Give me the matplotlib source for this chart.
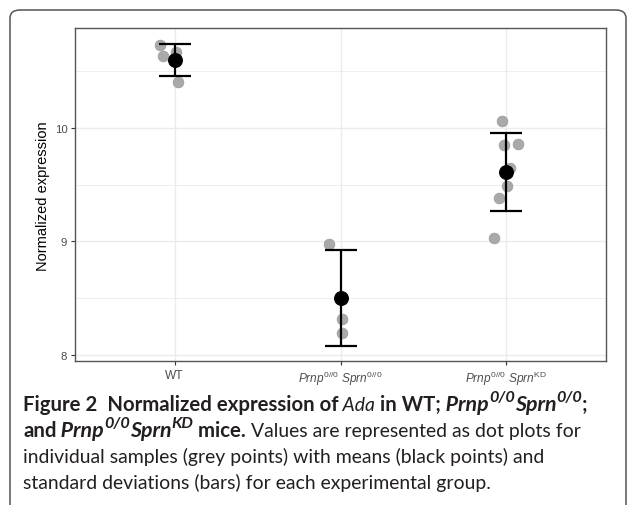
import matplotlib
matplotlib.use("Agg")
import matplotlib.pyplot as plt
from matplotlib.patches import FancyBboxPatch
import numpy as np

plt.rcParams['mathtext.fontset'] = 'custom'
plt.rcParams['mathtext.rm'] = 'Liberation Sans'
plt.rcParams['mathtext.it'] = 'Liberation Sans:italic'
plt.rcParams['mathtext.bf'] = 'Liberation Sans:bold'

# ---------------- data ----------------
categories = ["WT",
              r"$\mathit{Prnp}^{0//0}\ \mathit{Sprn}^{0//0}$",
              r"$\mathit{Prnp}^{0//0}\ \mathit{Sprn}^{\mathrm{KD}}$"]
wt_values = [10.733, 10.636, 10.671, 10.406]
wt_jitter = [-0.090, -0.072, 0.006, 0.018]
dko_values = [8.976, 8.313, 8.190]
dko_jitter = [-0.072, 0.012, 0.012]
kd_values = [10.062, 9.850, 9.859, 9.647, 9.488, 9.382, 9.029]
kd_jitter = [-0.024, -0.012, 0.072, 0.024, 0.006, -0.042, -0.072]
group_means = [10.600, 8.499, 9.611]
group_sds = [0.141, 0.420, 0.345]
y_ticks = [8, 9, 10]
y_label = "Normalized expression"

# ---------------- figure ----------------
W, H = 627, 506
fig = plt.figure(figsize=(W / 100, H / 100), dpi=100)

def fx(x):
    return x / W

def fy(y):
    return 1 - y / H

# outer rounded frame
frame = FancyBboxPatch((fx(10), fy(530)), fx(616), (530 - 11) / H,
                       boxstyle="round,pad=0,rounding_size=0.016",
                       transform=fig.transFigure, fill=False,
                       edgecolor="#555555", linewidth=1.1, clip_on=False)
fig.patches.append(frame)

ax = fig.add_axes([fx(75), fy(362), (606 - 75) / W, (362 - 29) / H])
ax.set_xlim(0.4, 3.6)
ax.set_ylim(7.943, 10.883)

# grid
ax.set_axisbelow(True)
for v in y_ticks:
    ax.axhline(v, color="#ebebeb", lw=1.0, zorder=0)
for v in np.array(y_ticks) + 0.5:
    ax.axhline(v, color="#ebebeb", lw=0.6, zorder=0)
for i in range(len(categories)):
    ax.axvline(i + 1, color="#ebebeb", lw=1.0, zorder=0)

groups = [(wt_values, wt_jitter), (dko_values, dko_jitter), (kd_values, kd_jitter)]
for i, (vals, jit) in enumerate(groups):
    xs = (i + 1) + np.array(jit)
    ax.scatter(xs, vals, s=60, color="#a9a9a9", edgecolors="#9a9a9a",
               linewidths=0.5, zorder=2)

xpos = np.arange(1, len(categories) + 1)
ax.errorbar(xpos, group_means, yerr=group_sds, fmt="none", ecolor="black",
            elinewidth=1.6, capsize=11.5, capthick=1.6, zorder=3)
ax.scatter(xpos, group_means, s=95, color="black", zorder=4)

ax.set_xticks(xpos)
ax.set_xticklabels(categories, fontsize=8.6, color="#4d4d4d",
                   family="Liberation Sans")
ax.set_yticks(y_ticks)
ax.set_yticklabels([str(t) for t in y_ticks], fontsize=8.2, color="#4d4d4d",
                   family="Liberation Sans")
ax.tick_params(axis="both", length=3, width=0.8, color="#333333", pad=2.5)
for sp in ax.spines.values():
    sp.set_color("#555555")
    sp.set_linewidth(1.0)

fig.text(fx(43), fy(196), y_label, rotation=90, ha="center", va="center",
         fontsize=10.5, family="Liberation Sans", color="black")

# ---------------- caption ----------------
cap_font = "Lato"
renderer = fig.canvas.get_renderer()

def measure(s, size, weight="normal", style="normal"):
    t = fig.text(0, 0, s, fontsize=size, family=cap_font, weight=weight, style=style)
    w = t.get_window_extent(renderer).width
    t.remove()
    return w

# fit caption size so the last line spans the same width as the reference
target_w = 470
base = 10.0
cap_size = base * target_w / measure("standard deviations (bars) for each experimental group.", base)

def place_runs(x, y, runs):
    for text, weight, style, sup in runs:
        scale = 1.0
        if weight == "bold":
            scale = 1.1 if style == "italic" else 1.05
        if sup:
            scale *= 0.76
        size = cap_size * scale
        dy = cap_size * 0.45 * 100 / 72 if sup else 0
        t = fig.text(fx(x), fy(y - dy), text, fontsize=size, family=cap_font,
                     weight=weight, style=style, va="baseline", ha="left",
                     color="#231f20")
        x += t.get_window_extent(renderer).width

B, N, I = "bold", "normal", "italic"
line1 = [("Figure 2  Normalized expression of", B, N, False),
         (" Ada", N, I, False),
         (" in WT;", B, N, False),
         (" Prnp", B, I, False), ("0/0", B, I, True),
         ("Sprn", B, I, False), ("0/0", B, I, True),
         (";", B, N, False)]
line2 = [("and", B, N, False),
         (" Prnp", B, I, False), ("0/0", B, I, True),
         ("Sprn", B, I, False), ("KD", B, I, True),
         (" mice.", B, N, False),
         (" Values are represented as dot plots for", N, N, False)]
line3 = [("individual samples (grey points) with means (black points) and", N, N, False)]
line4 = [("standard deviations (bars) for each experimental group.", N, N, False)]

x0 = 23
place_runs(x0, 411, line1)
place_runs(x0, 437, line2)
place_runs(x0, 463, line3)
place_runs(x0, 489, line4)

fig.savefig("out.png", dpi=100)
